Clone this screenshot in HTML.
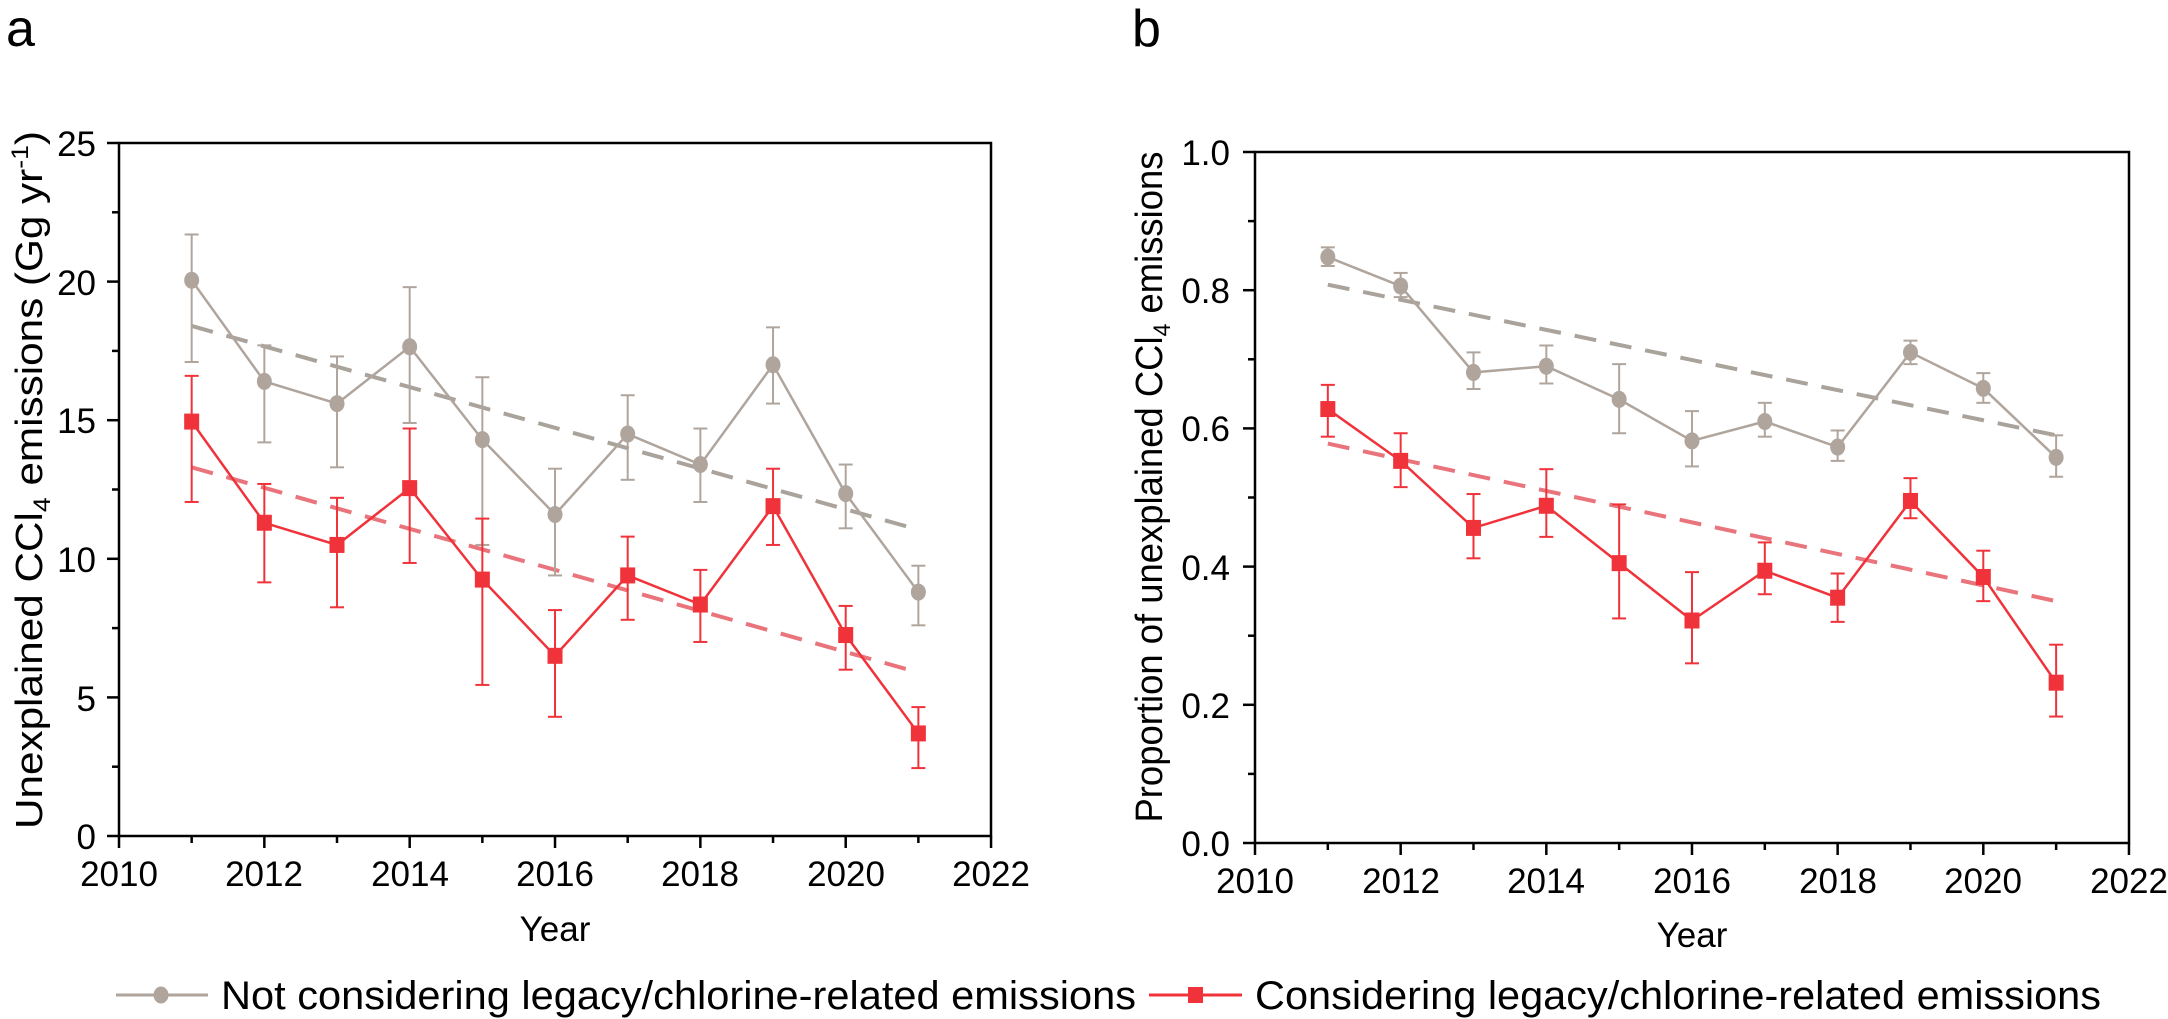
<!DOCTYPE html>
<html><head><meta charset="utf-8"><style>
html,body{margin:0;padding:0;background:#fff;}
svg{display:block;font-family:"Liberation Sans",Arial,sans-serif;}
</style></head><body>
<svg id="s" width="2168" height="1019" viewBox="0 0 2168 1019" xmlns="http://www.w3.org/2000/svg">
<rect width="2168" height="1019" fill="#fff"/>
<text x="6" y="46" font-size="52">a</text>
<text x="1132" y="46" font-size="52">b</text>

<g fill="none" stroke="#000" stroke-width="2.5">
<rect x="119" y="143" width="872" height="693"/>
<rect x="1255" y="152" width="874" height="691"/>
</g>
<g id="ticks" stroke="#000" stroke-width="2.5"></g>
<g id="data"></g>

<g font-size="35" text-anchor="middle">
<text x="119" y="886">2010</text><text x="264" y="886">2012</text><text x="410" y="886">2014</text><text x="555" y="886">2016</text><text x="700" y="886">2018</text><text x="846" y="886">2020</text><text x="991" y="886">2022</text>
<text x="555" y="941">Year</text>
<text x="1255" y="893">2010</text><text x="1401" y="893">2012</text><text x="1546" y="893">2014</text><text x="1692" y="893">2016</text><text x="1838" y="893">2018</text><text x="1983" y="893">2020</text><text x="2129" y="893">2022</text>
<text x="1692" y="947">Year</text>
</g>
<g font-size="35" text-anchor="end">
<text x="96" y="156">25</text><text x="96" y="295">20</text><text x="96" y="433">15</text><text x="96" y="572">10</text><text x="96" y="711">5</text><text x="96" y="849">0</text>
<text x="1230" y="165">1.0</text><text x="1230" y="303">0.8</text><text x="1230" y="441">0.6</text><text x="1230" y="580">0.4</text><text x="1230" y="718">0.2</text><text x="1230" y="856">0.0</text>
</g>
<text transform="translate(42,480) rotate(-90)" font-size="38" text-anchor="middle" textLength="698" lengthAdjust="spacingAndGlyphs">Unexplained CCl<tspan font-size="24" dy="8">4</tspan><tspan dy="-8"> emissions (Gg yr</tspan><tspan font-size="24" dy="-14">-1</tspan><tspan dy="14">)</tspan></text>
<text transform="translate(1162,487) rotate(-90)" font-size="38" text-anchor="middle" textLength="671" lengthAdjust="spacingAndGlyphs">Proportion of unexplained CCl<tspan font-size="24" dy="8">4</tspan><tspan dy="-8"> emissions</tspan></text>

<line x1="116" y1="995" x2="208" y2="995" stroke="#b0a59d" stroke-width="3"/>
<ellipse cx="161" cy="995" rx="7.5" ry="8.5" fill="#b0a59d"/>
<text x="221" y="1009" font-size="40" textLength="915" lengthAdjust="spacingAndGlyphs">Not considering legacy/chlorine-related emissions</text>
<line x1="1149" y1="995" x2="1242" y2="995" stroke="#f0333a" stroke-width="3"/>
<rect x="1188" y="987" width="15" height="16" fill="#f0333a"/>
<text x="1255" y="1009" font-size="40" textLength="846" lengthAdjust="spacingAndGlyphs">Considering legacy/chlorine-related emissions</text>

<script>
(function(){
var NS="http://www.w3.org/2000/svg";
function el(p,t,a){var e=document.createElementNS(NS,t);for(var k in a)e.setAttribute(k,a[k]);p.appendChild(e);return e;}
var tk=document.getElementById('ticks'),dg=document.getElementById('data');
var A={x0:119,xs:72.67,y0:836,ys:27.72},B={x0:1255,xs:72.83,y0:843,ys:691};
function X(P,yr){return P.x0+(yr-2010)*P.xs;}
function Y(P,v){return P.y0-v*P.ys;}
[[A,25,2.5],[B,1,0.1]].forEach(function(c){var P=c[0];
 for(var yr=2010;yr<=2022;yr++){var x=X(P,yr);el(tk,'line',{x1:x,y1:P.y0,x2:x,y2:P.y0+(yr%2?7:12)});}
 for(var i=0;i<=10;i++){var y=Y(P,i*c[2]);el(tk,'line',{x1:P.x0,y1:y,x2:P.x0-(i%2?7:12),y2:y});}
});
var grey="#b0a59d",red="#f0333a";
var dat=[
[A,grey,'c',[[20.05,17.1,21.7],[16.4,14.2,17.7],[15.6,13.3,17.3],[17.65,14.9,19.8],[14.3,10.5,16.55],[11.6,9.4,13.25],[14.5,12.85,15.9],[13.4,12.05,14.7],[17.0,15.6,18.35],[12.35,11.1,13.4],[8.8,7.6,9.75]],[18.4,11.05],"#aaa39c"],
[A,red,'s',[[14.95,12.05,16.6],[11.3,9.15,12.7],[10.5,8.25,12.2],[12.55,9.85,14.7],[9.25,5.45,11.45],[6.5,4.3,8.15],[9.4,7.8,10.8],[8.35,7.0,9.6],[11.9,10.5,13.25],[7.25,6.0,8.3],[3.7,2.45,4.65]],[13.3,5.9],"#e9747b"],
[B,grey,'c',[[.848,.835,.862],[.806,.79,.825],[.681,.657,.71],[.69,.665,.72],[.642,.593,.693],[.582,.545,.625],[.61,.588,.637],[.573,.553,.597],[.71,.693,.727],[.658,.637,.68],[.558,.53,.59]],[.808,.59],"#aaa39c"],
[B,red,'s',[[.628,.588,.663],[.553,.515,.593],[.456,.412,.505],[.488,.443,.541],[.405,.325,.49],[.322,.26,.392],[.394,.36,.435],[.355,.32,.39],[.495,.47,.528],[.385,.35,.423],[.232,.183,.287]],[.578,.35],"#e9747b"]
];
dat.forEach(function(d){var P=d[0];
 el(dg,'line',{x1:X(P,2011),y1:Y(P,d[4][0]),x2:X(P,2021),y2:Y(P,d[4][1]),stroke:d[5],'stroke-width':4,'stroke-dasharray':'22,14'});
});
dat.forEach(function(d){var P=d[0],c=d[1],pts=[];
 d[3].forEach(function(v,i){var x=X(P,2011+i);pts.push(x+','+Y(P,v[0]));
  el(dg,'line',{x1:x,y1:Y(P,v[1]),x2:x,y2:Y(P,v[2]),stroke:c,'stroke-width':2});
  el(dg,'line',{x1:x-7,y1:Y(P,v[1]),x2:x+7,y2:Y(P,v[1]),stroke:c,'stroke-width':2});
  el(dg,'line',{x1:x-7,y1:Y(P,v[2]),x2:x+7,y2:Y(P,v[2]),stroke:c,'stroke-width':2});
 });
 el(dg,'polyline',{points:pts.join(' '),fill:'none',stroke:c,'stroke-width':2.5});
 d[3].forEach(function(v,i){var x=X(P,2011+i),y=Y(P,v[0]);
  if(d[2]=='c')el(dg,'ellipse',{cx:x,cy:y,rx:7.5,ry:8.5,fill:c});
  else el(dg,'rect',{x:x-7.5,y:y-8,width:15,height:16,fill:c});
 });
});
})();
</script>
</svg>
</body></html>
